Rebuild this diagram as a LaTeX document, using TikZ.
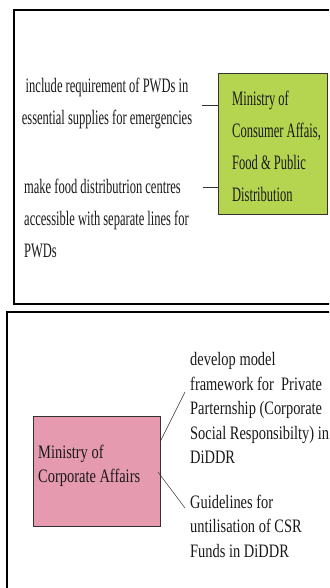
\documentclass[tikz,border=0pt]{standalone}
\usepackage{fontspec}
\newfontfamily\topfont[FakeStretch=0.61]{Liberation Serif}
\newfontfamily\botfont[FakeStretch=0.76]{Liberation Serif}
\definecolor{limebox}{HTML}{B5D550}
\definecolor{pinkbox}{HTML}{E59AAF}
\begin{document}
\begin{tikzpicture}[x=1pt,y=-1pt,
  frame/.style={draw=black,line width=1.6pt},
  toptext/.style={font=\topfont\fontsize{20.5}{32}\selectfont,inner sep=0pt,text=black!90},
  bottext/.style={font=\botfont\fontsize{19}{24.5}\selectfont,inner sep=0pt,text=black!90},
  link/.style={draw=black!80,line width=0.8pt},
  thinlink/.style={draw=black!80,line width=0.5pt}]
\useasboundingbox (0,0) rectangle (329,588);
\clip (0,0) rectangle (329,588);
% frames
\draw[frame] (14,10) rectangle (340,304);
\draw[frame] (7,312) rectangle (340,600);
% top section
\node[draw=black!80,fill=limebox,line width=0.8pt,minimum width=109pt,minimum height=141pt,inner sep=0pt] (green) at (272.5,143.5) {};
\node[toptext,align=left,anchor=west] (greentext) at (232,146) {Ministry of\\Consumer Affais,\\Food \& Public\\Distribution};
\node[toptext,align=center] (t1) at (107,103) {include requirement of PWDs in\\essential supplies for emergencies};
\node[toptext,align=left,anchor=west] (t2) at (24,218) {make food distributrion centres\\accessible with separate lines for\\PWDs};
\coordinate (c1) at (202,105);
\coordinate (c2) at (203,187);
\draw[link] (c1) -- (c1 -| green.west);
\draw[link] (c2) -- (c2 -| green.west);
% bottom section
\node[draw=black!80,fill=pinkbox,line width=0.8pt,minimum width=127pt,minimum height=110pt,inner sep=0pt] (pink) at (96.5,471) {};
\node[bottext,align=left,anchor=west] (pinktext) at (38,466) {Ministry of\\Corporate Affairs};
\node[bottext,align=left,anchor=west] (b1) at (190,408) {develop model\\framework for~~Private\\Parternship (Corporate\\Social Responsibilty) in\\DiDDR};
\node[bottext,align=left,anchor=west] (b2) at (190,526) {Guidelines for\\untilisation of CSR\\Funds in DiDDR};
\coordinate (p1) at (160,442);
\coordinate (p2) at (158,472);
\coordinate (q1) at (185,392);
\coordinate (q2) at (185,508);
\draw[thinlink] (p1) -- (q1);
\draw[thinlink] (p2) -- (q2);
\end{tikzpicture}
\end{document}
